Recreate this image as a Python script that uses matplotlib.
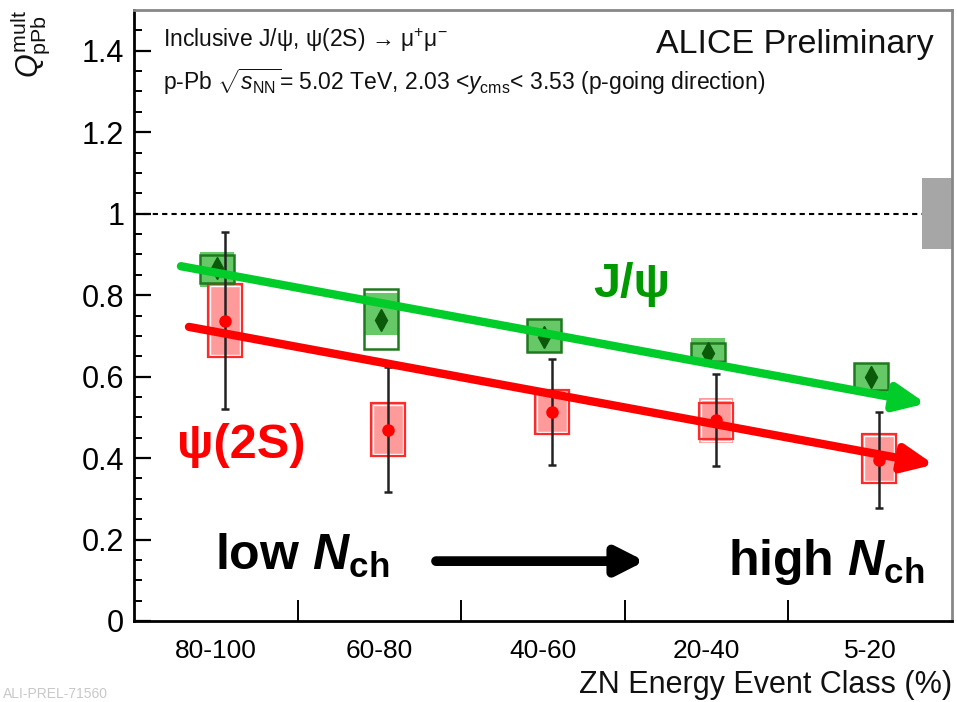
import matplotlib
matplotlib.use('Agg')
import matplotlib.pyplot as plt
import numpy as np
from matplotlib.patches import Rectangle

plt.rcParams['font.family'] = ['Liberation Sans', 'DejaVu Sans']
plt.rcParams['mathtext.fontset'] = 'custom'
plt.rcParams['mathtext.rm'] = 'Liberation Sans'
plt.rcParams['mathtext.it'] = 'Liberation Sans:italic'
plt.rcParams['mathtext.bf'] = 'Liberation Sans:bold'
plt.rcParams['mathtext.bfit'] = 'Liberation Sans:italic:bold'
plt.rcParams['mathtext.sf'] = 'Liberation Sans'

# ---------------- data ----------------
categories = ['80-100', '60-80', '40-60', '20-40', '5-20']
yticks = [0, 0.2, 0.4, 0.6, 0.8, 1.0, 1.2, 1.4]
ytick_labels = ['0', '0.2', '0.4', '0.6', '0.8', '1', '1.2', '1.4']

jpsi_q = [0.866, 0.739, 0.698, 0.658, 0.600]
jpsi_stat = [0.015, 0.015, 0.012, 0.010, 0.010]
jpsi_fill_lo = [0.820, 0.702, 0.661, 0.640, 0.568]
jpsi_fill_hi = [0.906, 0.805, 0.742, 0.695, 0.634]
jpsi_box_lo = [0.830, 0.668, 0.661, 0.639, 0.568]
jpsi_box_hi = [0.898, 0.815, 0.742, 0.683, 0.634]

psi2s_q = [0.737, 0.470, 0.514, 0.494, 0.396]
psi2s_stat = [0.217, 0.154, 0.130, 0.113, 0.118]
psi2s_fill_lo = [0.649, 0.404, 0.458, 0.438, 0.338]
psi2s_fill_hi = [0.827, 0.536, 0.568, 0.548, 0.460]
psi2s_box_lo = [0.649, 0.404, 0.458, 0.448, 0.338]
psi2s_box_hi = [0.827, 0.536, 0.568, 0.536, 0.460]

global_syst = 0.087

# trend arrows (start, end) in data coordinates
jpsi_trend = [(0.287, 0.871), (4.841, 0.534)]
psi2s_trend = [(0.336, 0.722), (4.890, 0.384)]
nch_arrow = [(1.846, 0.147), (3.123, 0.147)]

# ---------------- figure ----------------
fig = plt.figure(figsize=(9.57, 7.02), dpi=100)
ax = fig.add_axes([134/957, 1-621/702, (952-134)/957, (621-10)/702])

n = len(categories)
xc = np.arange(n) + 0.5
x_jpsi = xc + 0.007
x_psi = xc + 0.055
hw = 0.104

green_fill = '#66c866'
green_edge = '#1f7a1f'
red_fill = '#ff9a9a'
red_edge = '#ff2a2a'

for i in range(n):
    # psi(2S) boxes
    ax.add_patch(Rectangle((x_psi[i]-hw, psi2s_fill_lo[i]), 2*hw, psi2s_fill_hi[i]-psi2s_fill_lo[i],
                           facecolor=red_fill, edgecolor='none', zorder=2))
    ax.add_patch(Rectangle((x_psi[i]-hw+0.012, psi2s_fill_lo[i]+0.005), 2*hw-0.024,
                           psi2s_fill_hi[i]-psi2s_fill_lo[i]-0.01,
                           facecolor='none', edgecolor='white', lw=1.0, zorder=2.1))
    ax.add_patch(Rectangle((x_psi[i]-hw, psi2s_box_lo[i]), 2*hw, psi2s_box_hi[i]-psi2s_box_lo[i],
                           facecolor='none', edgecolor=red_edge, lw=1.6, zorder=2.2))
    # J/psi boxes
    ax.add_patch(Rectangle((x_jpsi[i]-hw, jpsi_fill_lo[i]), 2*hw, jpsi_fill_hi[i]-jpsi_fill_lo[i],
                           facecolor=green_fill, edgecolor='none', zorder=2))
    ax.add_patch(Rectangle((x_jpsi[i]-hw, jpsi_box_lo[i]), 2*hw, jpsi_box_hi[i]-jpsi_box_lo[i],
                           facecolor='none', edgecolor=green_edge, lw=1.8, zorder=2.2))

ax.errorbar(x_psi, psi2s_q, yerr=psi2s_stat, fmt='o', color='red', ms=8,
            ecolor='#222222', elinewidth=1.8, capsize=3, capthick=1.8, zorder=3)
ax.errorbar(x_jpsi, jpsi_q, yerr=jpsi_stat, fmt='d', color='#0a5a0a', ms=11,
            ecolor='#222222', elinewidth=1.5, capsize=2, zorder=3)

# global uncertainty box and unity line
ax.add_patch(Rectangle((n-0.183, 1-global_syst), 0.183, 2*global_syst,
                       facecolor='#a6a6a6', edgecolor='none', zorder=2))
ax.plot([0, n-0.183], [1, 1], color='black', lw=1.5, ls=(0, (2.5, 2)), zorder=1)

# trend arrows
def arrow(p, color, lw, hl, hw_):
    ax.annotate('', xy=p[1], xytext=p[0],
                arrowprops=dict(arrowstyle='-|>,head_length=%g,head_width=%g' % (hl, hw_),
                                color=color, lw=lw, shrinkA=0, shrinkB=0,
                                mutation_scale=30), zorder=5)

arrow(jpsi_trend, '#00cc2a', 6, 0.6, 0.27)
arrow(psi2s_trend, '#ff0000', 6, 0.6, 0.27)
arrow(nch_arrow, 'black', 7, 0.55, 0.28)

# labels in plot
ax.text(2.806, 0.795, 'J/ψ', color='#009900', fontsize=35, fontweight='bold', zorder=6)
ax.text(0.263, 0.401, 'ψ(2S)', color='#ff0000', fontsize=35, fontweight='bold', zorder=6)
ax.text(0.495, 0.125, r'low $\mathbfit{N}_{\mathbf{ch}}$', color='black', fontsize=36,
        fontweight='bold', zorder=6)
ax.text(3.631, 0.113, r'high $\mathbfit{N}_{\mathbf{ch}}$', color='black', fontsize=36,
        fontweight='bold', zorder=6)

ax.text(0.0355, 0.939, r'Inclusive J/ψ, ψ(2S) → μ$^{+}$μ$^{-}$', transform=ax.transAxes,
        fontsize=16.5, color='#111111')
ax.text(0.0355, 0.869, r'p-Pb $\sqrt{s_{\rm NN}}$= 5.02 TeV, 2.03 <$y_{\rm cms}$< 3.53 (p-going direction)',
        transform=ax.transAxes, fontsize=16.5, color='#111111')
ax.text(0.977, 0.930, 'ALICE Preliminary', transform=ax.transAxes, ha='right',
        fontsize=24.5, color='#111111')

# axes
ax.set_xlim(0, n)
ax.set_ylim(0, 1.5)
ax.set_yticks(yticks)
ax.set_yticklabels(ytick_labels)
ax.set_yticks(np.arange(0, 1.5, 0.05), minor=True)
ax.tick_params(axis='y', which='major', direction='in', length=12, width=1.6,
               labelsize=22, pad=7, right=False)
ax.tick_params(axis='y', which='minor', direction='in', length=6, width=1.4, right=False)
ax.set_xticks(np.arange(1, n))
ax.set_xticklabels([])
ax.set_xticks(xc, minor=True)
ax.set_xticklabels(categories, minor=True)
ax.tick_params(axis='x', which='major', direction='in', length=15, width=1.4, top=False)
ax.tick_params(axis='x', which='minor', length=0, labelsize=19, pad=13)
for s in ['left', 'bottom']:
    ax.spines[s].set_linewidth(2)
    ax.spines[s].set_color('black')
for s in ['top', 'right']:
    ax.spines[s].set_linewidth(2)
    ax.spines[s].set_color('#888888')

fig.text(952/957, 1-693/702, 'ZN Energy Event Class (%)', ha='right', va='baseline',
         fontsize=22, color='#111111')
fig.text(30/957, 1-10/702, r'$Q^{\rm mult}_{\rm pPb}$', rotation=90, ha='center', va='top',
         fontsize=22, color='#111111')
fig.text(0.003, 0.002, 'ALI-PREL-71560', ha='left', va='bottom', fontsize=10, color='#c8c8c8')

fig.savefig('out.png', dpi=100)
